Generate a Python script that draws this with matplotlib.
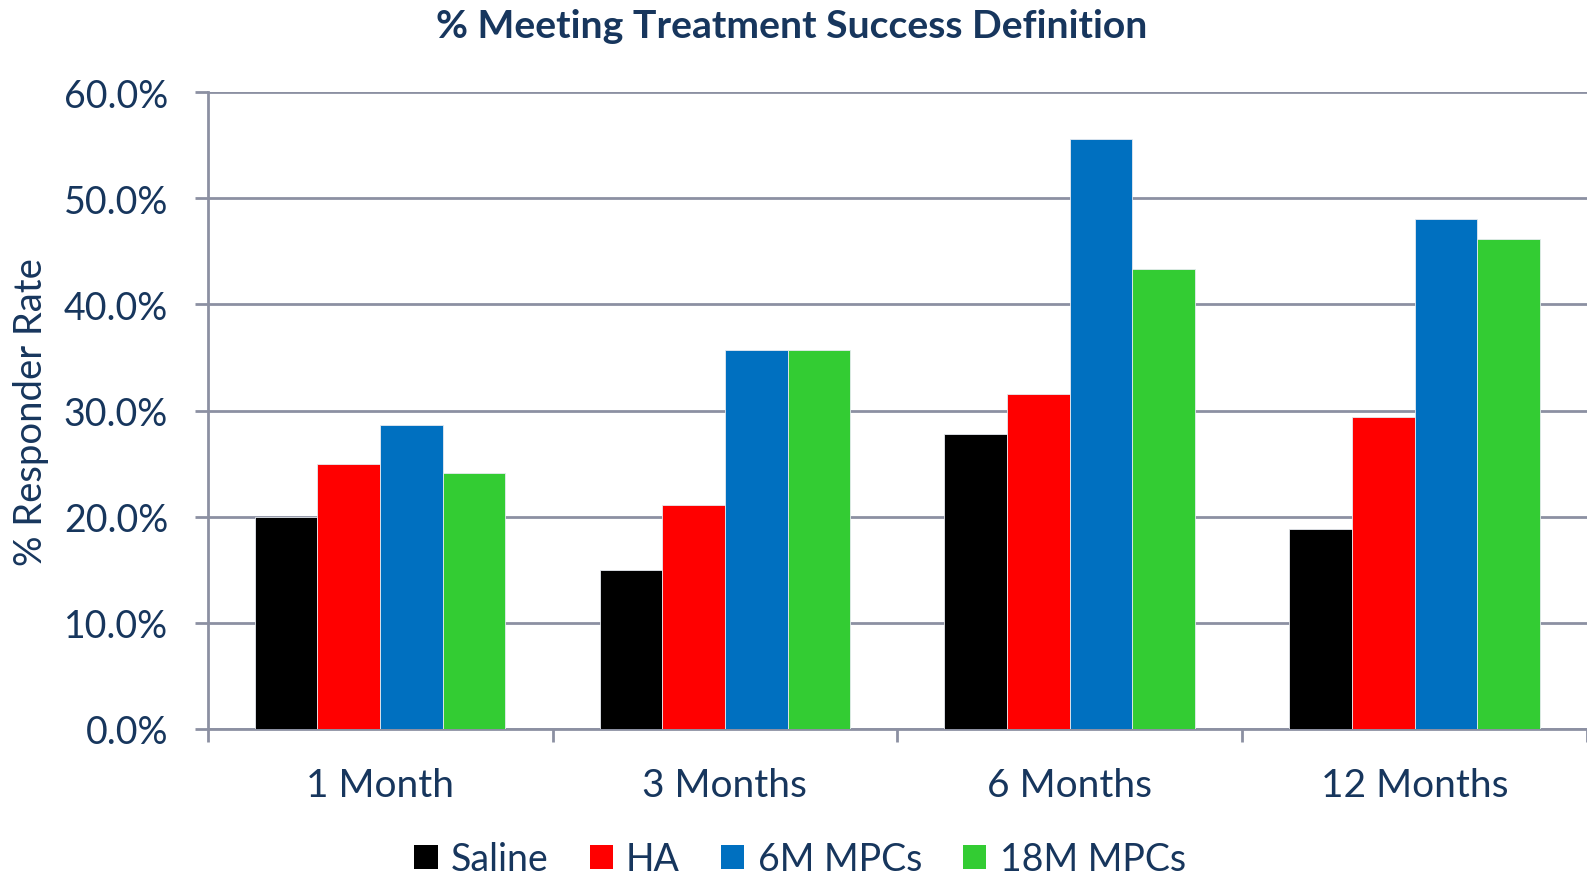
import matplotlib
matplotlib.use("Agg")
import matplotlib.pyplot as plt
from matplotlib.ticker import FixedLocator, FuncFormatter
from matplotlib.patches import Patch
import numpy as np

categories = ["1 Month", "3 Months", "6 Months", "12 Months"]
series_names = ["Saline", "HA", "6M MPCs", "18M MPCs"]
saline = [20.0, 15.0, 27.8, 18.8]
ha = [25.0, 21.1, 31.6, 29.4]
mpc_6m = [28.6, 35.7, 55.6, 48.0]
mpc_18m = [24.1, 35.7, 43.3, 46.2]
yticks = [0, 10, 20, 30, 40, 50, 60]
title = "% Meeting Treatment Success Definition"
ylabel = "% Responder Rate"

colors = ["#000000", "#FF0000", "#0070C0", "#33CC33"]
text_color = "#17365D"
grid_color = "#8C90A2"
font = ["Lato", "DejaVu Sans"]

plt.rcParams["font.family"] = font

W, H = 1587, 878
fig = plt.figure(figsize=(W / 100, H / 100), dpi=100)
ax_left, ax_right, ax_top, ax_bottom = 207.7, 1587, 93.0, 730.0
ax = fig.add_axes([ax_left / W, 1 - ax_bottom / H, (ax_right - ax_left) / W, (ax_bottom - ax_top) / H])

data = [saline, ha, mpc_6m, mpc_18m]
x = np.arange(len(categories))
group = 0.727
bw = group / len(data)
for i, (vals, c) in enumerate(zip(data, colors)):
    ax.bar(x + (i - 1.5) * bw, vals, width=bw, color=c, edgecolor="#E6EAF0",
           linewidth=0.6, zorder=3)

ax.set_xlim(-0.5, len(categories) - 0.5)
ax.set_ylim(0, 60)
ax.yaxis.set_major_locator(FixedLocator(yticks))
ax.yaxis.set_major_formatter(FuncFormatter(lambda v, p: f"{v:.1f}%"))
ax.grid(axis="y", color=grid_color, linewidth=2.0, zorder=0)
ax.set_axisbelow(True)

ax.set_xticks(np.arange(-0.5, len(categories) + 0.5, 1.0))
ax.set_xticklabels([])
ax.set_xticks(x, minor=True)
ax.set_xticklabels(categories, minor=True)
ax.tick_params(axis="x", which="major", length=9.5, width=2, color=grid_color, direction="out")
ax.tick_params(axis="x", which="minor", length=0, pad=27.5, labelsize=28, labelcolor=text_color)
ax.tick_params(axis="y", which="major", length=9.5, width=2, color=grid_color, direction="out",
               pad=19, labelsize=27, labelcolor=text_color)

for s in ["top", "right"]:
    ax.spines[s].set_visible(False)
for s in ["left", "bottom"]:
    ax.spines[s].set_color(grid_color)
    ax.spines[s].set_linewidth(2)

fig.text(792 / W, 1 - 27 / H, title, ha="center", va="center", fontsize=28.2,
         fontweight="bold", color=text_color)
fig.text(31 / W, 1 - 412 / H, ylabel, ha="center", va="center", rotation=90,
         fontsize=27.5, color=text_color)

handles = [Patch(facecolor=c, edgecolor="none") for c in colors]
leg = fig.legend(handles, series_names, loc="center", bbox_to_anchor=(800 / W, 1 - 860 / H),
                 ncol=4, frameon=False, fontsize=27, handlelength=0.62, handleheight=0.62,
                 handletextpad=0.35, columnspacing=1.1, borderaxespad=0, borderpad=0)
for t in leg.get_texts():
    t.set_color(text_color)

fig.savefig("out.png", dpi=100)
